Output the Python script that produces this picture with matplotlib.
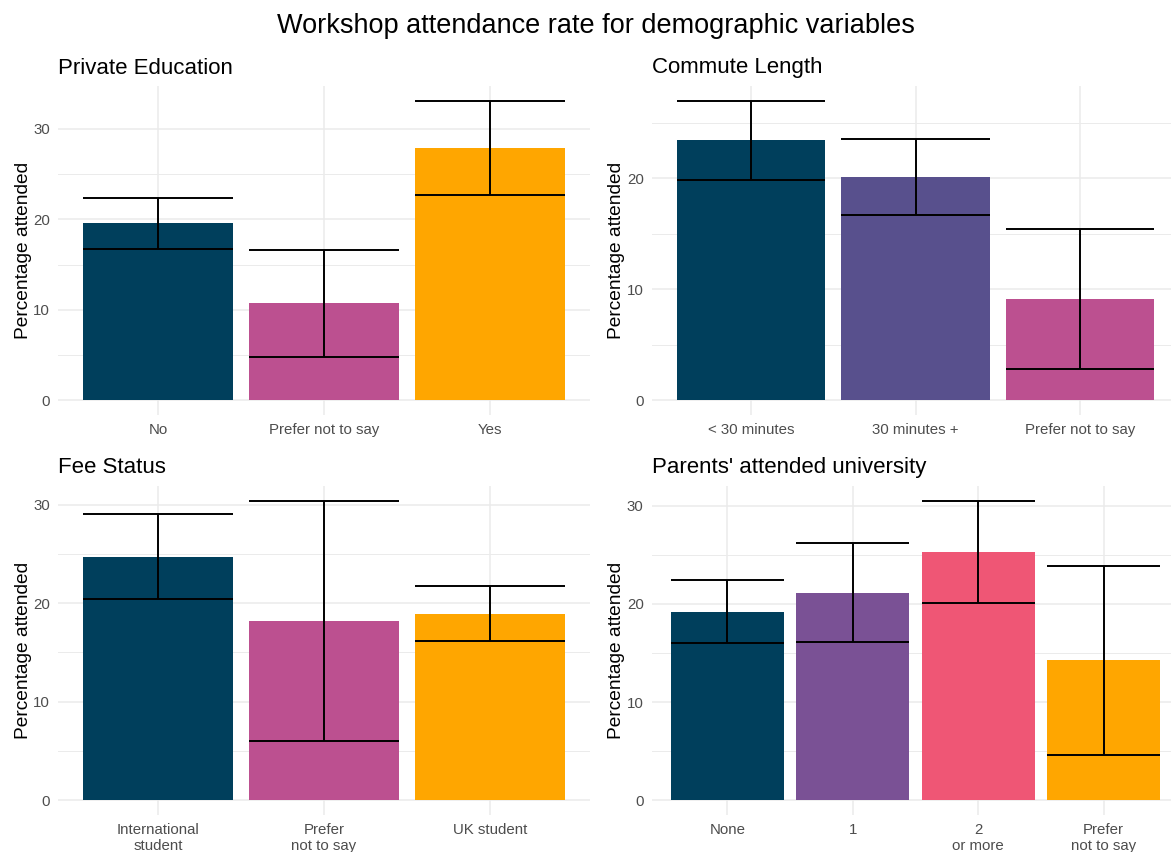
import matplotlib
matplotlib.use("Agg")
import matplotlib.pyplot as plt
import numpy as np

plt.rcParams['font.family'] = ['Liberation Sans', 'DejaVu Sans']

# ---- data ----
title_main = "Workshop attendance rate for demographic variables"

edu_cats = ["No", "Prefer not to say", "Yes"]
edu_vals = [19.6, 10.7, 27.9]
edu_lo = [16.75, 4.8, 22.7]
edu_hi = [22.4, 16.6, 33.1]
edu_cols = ["#003f5c", "#bc5090", "#ffa600"]

com_cats = ["< 30 minutes", "30 minutes +", "Prefer not to say"]
com_vals = [23.4, 20.1, 9.07]
com_lo = [19.8, 16.7, 2.82]
com_hi = [26.96, 23.57, 15.38]
com_cols = ["#003f5c", "#58508d", "#bc5090"]

fee_cats = ["International\nstudent", "Prefer\nnot to say", "UK student"]
fee_vals = [24.72, 18.13, 18.94]
fee_lo = [20.46, 6.02, 16.1]
fee_hi = [29.05, 30.37, 21.78]
fee_cols = ["#003f5c", "#bc5090", "#ffa600"]

par_cats = ["None", "1", "2\nor more", "Prefer\nnot to say"]
par_vals = [19.2, 21.13, 25.31, 14.24]
par_lo = [15.97, 16.1, 20.11, 4.59]
par_hi = [22.43, 26.27, 30.51, 23.92]
par_cols = ["#003f5c", "#7a5195", "#ef5675", "#ffa600"]

panels = [
    ("Private Education", edu_cats, edu_vals, edu_lo, edu_hi, edu_cols, [0, 10, 20, 30]),
    ("Commute Length", com_cats, com_vals, com_lo, com_hi, com_cols, [0, 10, 20]),
    ("Fee Status", fee_cats, fee_vals, fee_lo, fee_hi, fee_cols, [0, 10, 20, 30]),
    ("Parents' attended university", par_cats, par_vals, par_lo, par_hi, par_cols, [0, 10, 20, 30]),
]

W, H = 1171, 852
fig = plt.figure(figsize=(W / 100, H / 100), dpi=100)

# axes rectangles in pixels (left, top, right, bottom)
rects = [
    (58.4, 86, 589.6, 415),
    (652, 86, 1179, 415),
    (58.4, 486, 589.6, 815),
    (652, 486, 1179, 815),
]

grid_col = "#ebebeb"
for (title, cats, vals, lo, hi, cols, yt), (l, t, r, b) in zip(panels, rects):
    ax = fig.add_axes([l / W, 1 - b / H, (r - l) / W, (b - t) / H])
    n = len(cats)
    x = np.arange(1, n + 1)
    ax.bar(x, vals, width=0.9, color=cols, zorder=2)
    ax.vlines(x, lo, hi, color="black", lw=1.4, zorder=3)
    ax.hlines(lo, x - 0.45, x + 0.45, color="black", lw=1.4, zorder=3)
    ax.hlines(hi, x - 0.45, x + 0.45, color="black", lw=1.4, zorder=3)
    top = max(hi)
    ax.set_ylim(-0.05 * top, 1.05 * top)
    ax.set_xlim(0.4, n + 0.6)
    ax.set_xticks(x)
    ax.set_xticklabels(cats, linespacing=1.15)
    ax.set_yticks(yt)
    ax.set_yticks([v + 5 for v in yt if v + 5 < 1.05 * top], minor=True)
    ax.grid(True, which="major", color=grid_col, lw=1.1, zorder=0)
    ax.grid(True, which="minor", axis="y", color=grid_col, lw=0.7, zorder=0)
    ax.set_axisbelow(True)
    for s in ax.spines.values():
        s.set_visible(False)
    ax.tick_params(axis="both", which="both", length=0, labelsize=10.8, labelcolor="#4d4d4d")
    ax.tick_params(axis="y", pad=6)
    ax.tick_params(axis="x", pad=6)
    ax.set_ylabel("Percentage attended", fontsize=13.8, color="black", labelpad=1)
    ax.set_title(title, loc="left", fontsize=16, pad=9)

fig.text(596 / W, 1 - 33 / H, title_main, ha="center", va="baseline", fontsize=19.5)

fig.savefig("out.png", dpi=100)
